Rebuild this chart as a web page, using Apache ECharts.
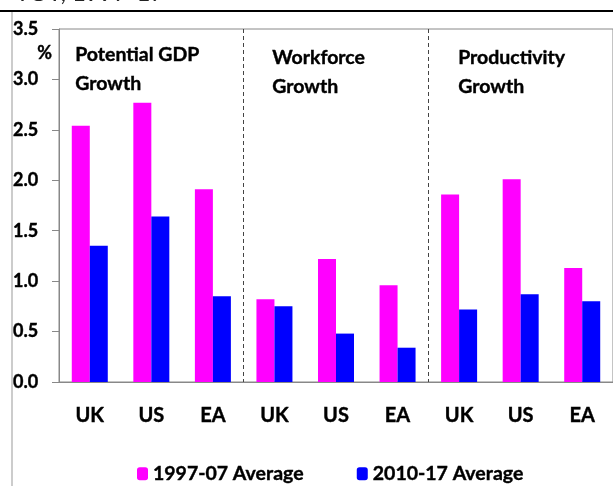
<!DOCTYPE html>
<html>
<head>
<meta charset="utf-8">
<script src="https://cdn.jsdelivr.net/npm/echarts@6/dist/echarts.min.js"></script>
<style>
  html, body { margin: 0; padding: 0; background: #fff; }
  #chart { width: 613px; height: 486px; }
</style>
</head>
<body>
<div id="chart"></div>
<script>
  // country groups: potential GDP, workforce, productivity
  var categories = ['UK', 'US', 'EA', 'UK', 'US', 'EA', 'UK', 'US', 'EA']
  var avg9707 = [2.54, 2.77, 1.91, 0.82, 1.22, 0.96, 1.86, 2.01, 1.13]
  var avg1017 = [1.35, 1.64, 0.85, 0.75, 0.48, 0.34, 0.72, 0.87, 0.80]
  var yTicks = [0, 0.5, 1.0, 1.5, 2.0, 2.5, 3.0, 3.5]
  var panelTitles = ['Potential GDP\nGrowth', 'Workforce\nGrowth', 'Productivity\nGrowth']

  var font = 'Lato, "Open Sans", sans-serif'
  var chart = echarts.init(document.getElementById('chart'))

  function titleText(txt, x, y) {
    return {
      type: 'text',
      left: x,
      top: y,
      style: {
        text: txt,
        font: 'bold 19.5px ' + font,
        fill: '#000',
        stroke: '#000',
        lineWidth: 0.4,
        lineHeight: 29
      }
    }
  }

  chart.setOption({
    animation: false,
    grid: {
      left: 59,
      right: -2,
      top: 29,
      bottom: 104,
      show: true,
      borderColor: '#888',
      borderWidth: 1
    },
    legend: {
      bottom: -3,
      left: 132,
      itemWidth: 11,
      itemHeight: 13,
      itemGap: 53,
      textStyle: {
        fontFamily: font, fontWeight: 'bold', fontSize: 19.5, color: '#000',
        textBorderColor: '#000', textBorderWidth: 0.4
      },
      data: ['1997-07 Average', '2010-17 Average']
    },
    xAxis: {
      type: 'category',
      data: categories,
      axisLine: { lineStyle: { color: '#888' } },
      axisTick: { show: false },
      axisLabel: {
        margin: 24,
        color: '#000',
        fontFamily: font,
        fontWeight: 'bold',
        fontSize: 20,
        textBorderColor: '#000',
        textBorderWidth: 0.4
      },
      splitLine: {
        show: true,
        interval: function (idx) { return idx === 3 || idx === 6 },
        lineStyle: { color: '#444', type: [4, 3], width: 1 }
      }
    },
    yAxis: {
      type: 'value',
      min: yTicks[0],
      max: yTicks[yTicks.length - 1],
      interval: 0.5,
      splitLine: { show: false },
      axisLine: { show: true, lineStyle: { color: '#888' } },
      axisTick: { show: true, length: 7, lineStyle: { color: '#888' } },
      axisLabel: {
        align: 'left',
        margin: 46,
        color: '#000',
        fontFamily: font,
        fontWeight: 'bold',
        fontSize: 18,
        textBorderColor: '#000',
        textBorderWidth: 0.4,
        formatter: function (v) { return v.toFixed(1) }
      }
    },
    series: [
      {
        name: '1997-07 Average',
        type: 'bar',
        data: avg9707,
        barWidth: 18,
        barGap: '0%',
        itemStyle: { color: '#ff00ff' }
      },
      {
        name: '2010-17 Average',
        type: 'bar',
        data: avg1017,
        barWidth: 18,
        itemStyle: { color: '#0000ff' }
      }
    ],
    graphic: [
      // cut off heading from the page above
      { type: 'text', left: 15, top: -19, style: { text: 'YOY, 1997-17', font: '24px ' + font, fill: '#222' } },
      { type: 'line', shape: { x1: 0, y1: 11, x2: 613, y2: 11 }, style: { stroke: '#000', lineWidth: 2 } },
      { type: 'line', shape: { x1: 12, y1: 12, x2: 12, y2: 486 }, style: { stroke: '#999', lineWidth: 1 } },
      { type: 'text', left: 37, top: 44, style: { text: '%', font: 'bold 18px ' + font, fill: '#000', stroke: '#000', lineWidth: 0.4 } },
      titleText(panelTitles[0], 75, 40),
      titleText(panelTitles[1], 272, 43),
      titleText(panelTitles[2], 458, 43)
    ]
  })
</script>
</body>
</html>
